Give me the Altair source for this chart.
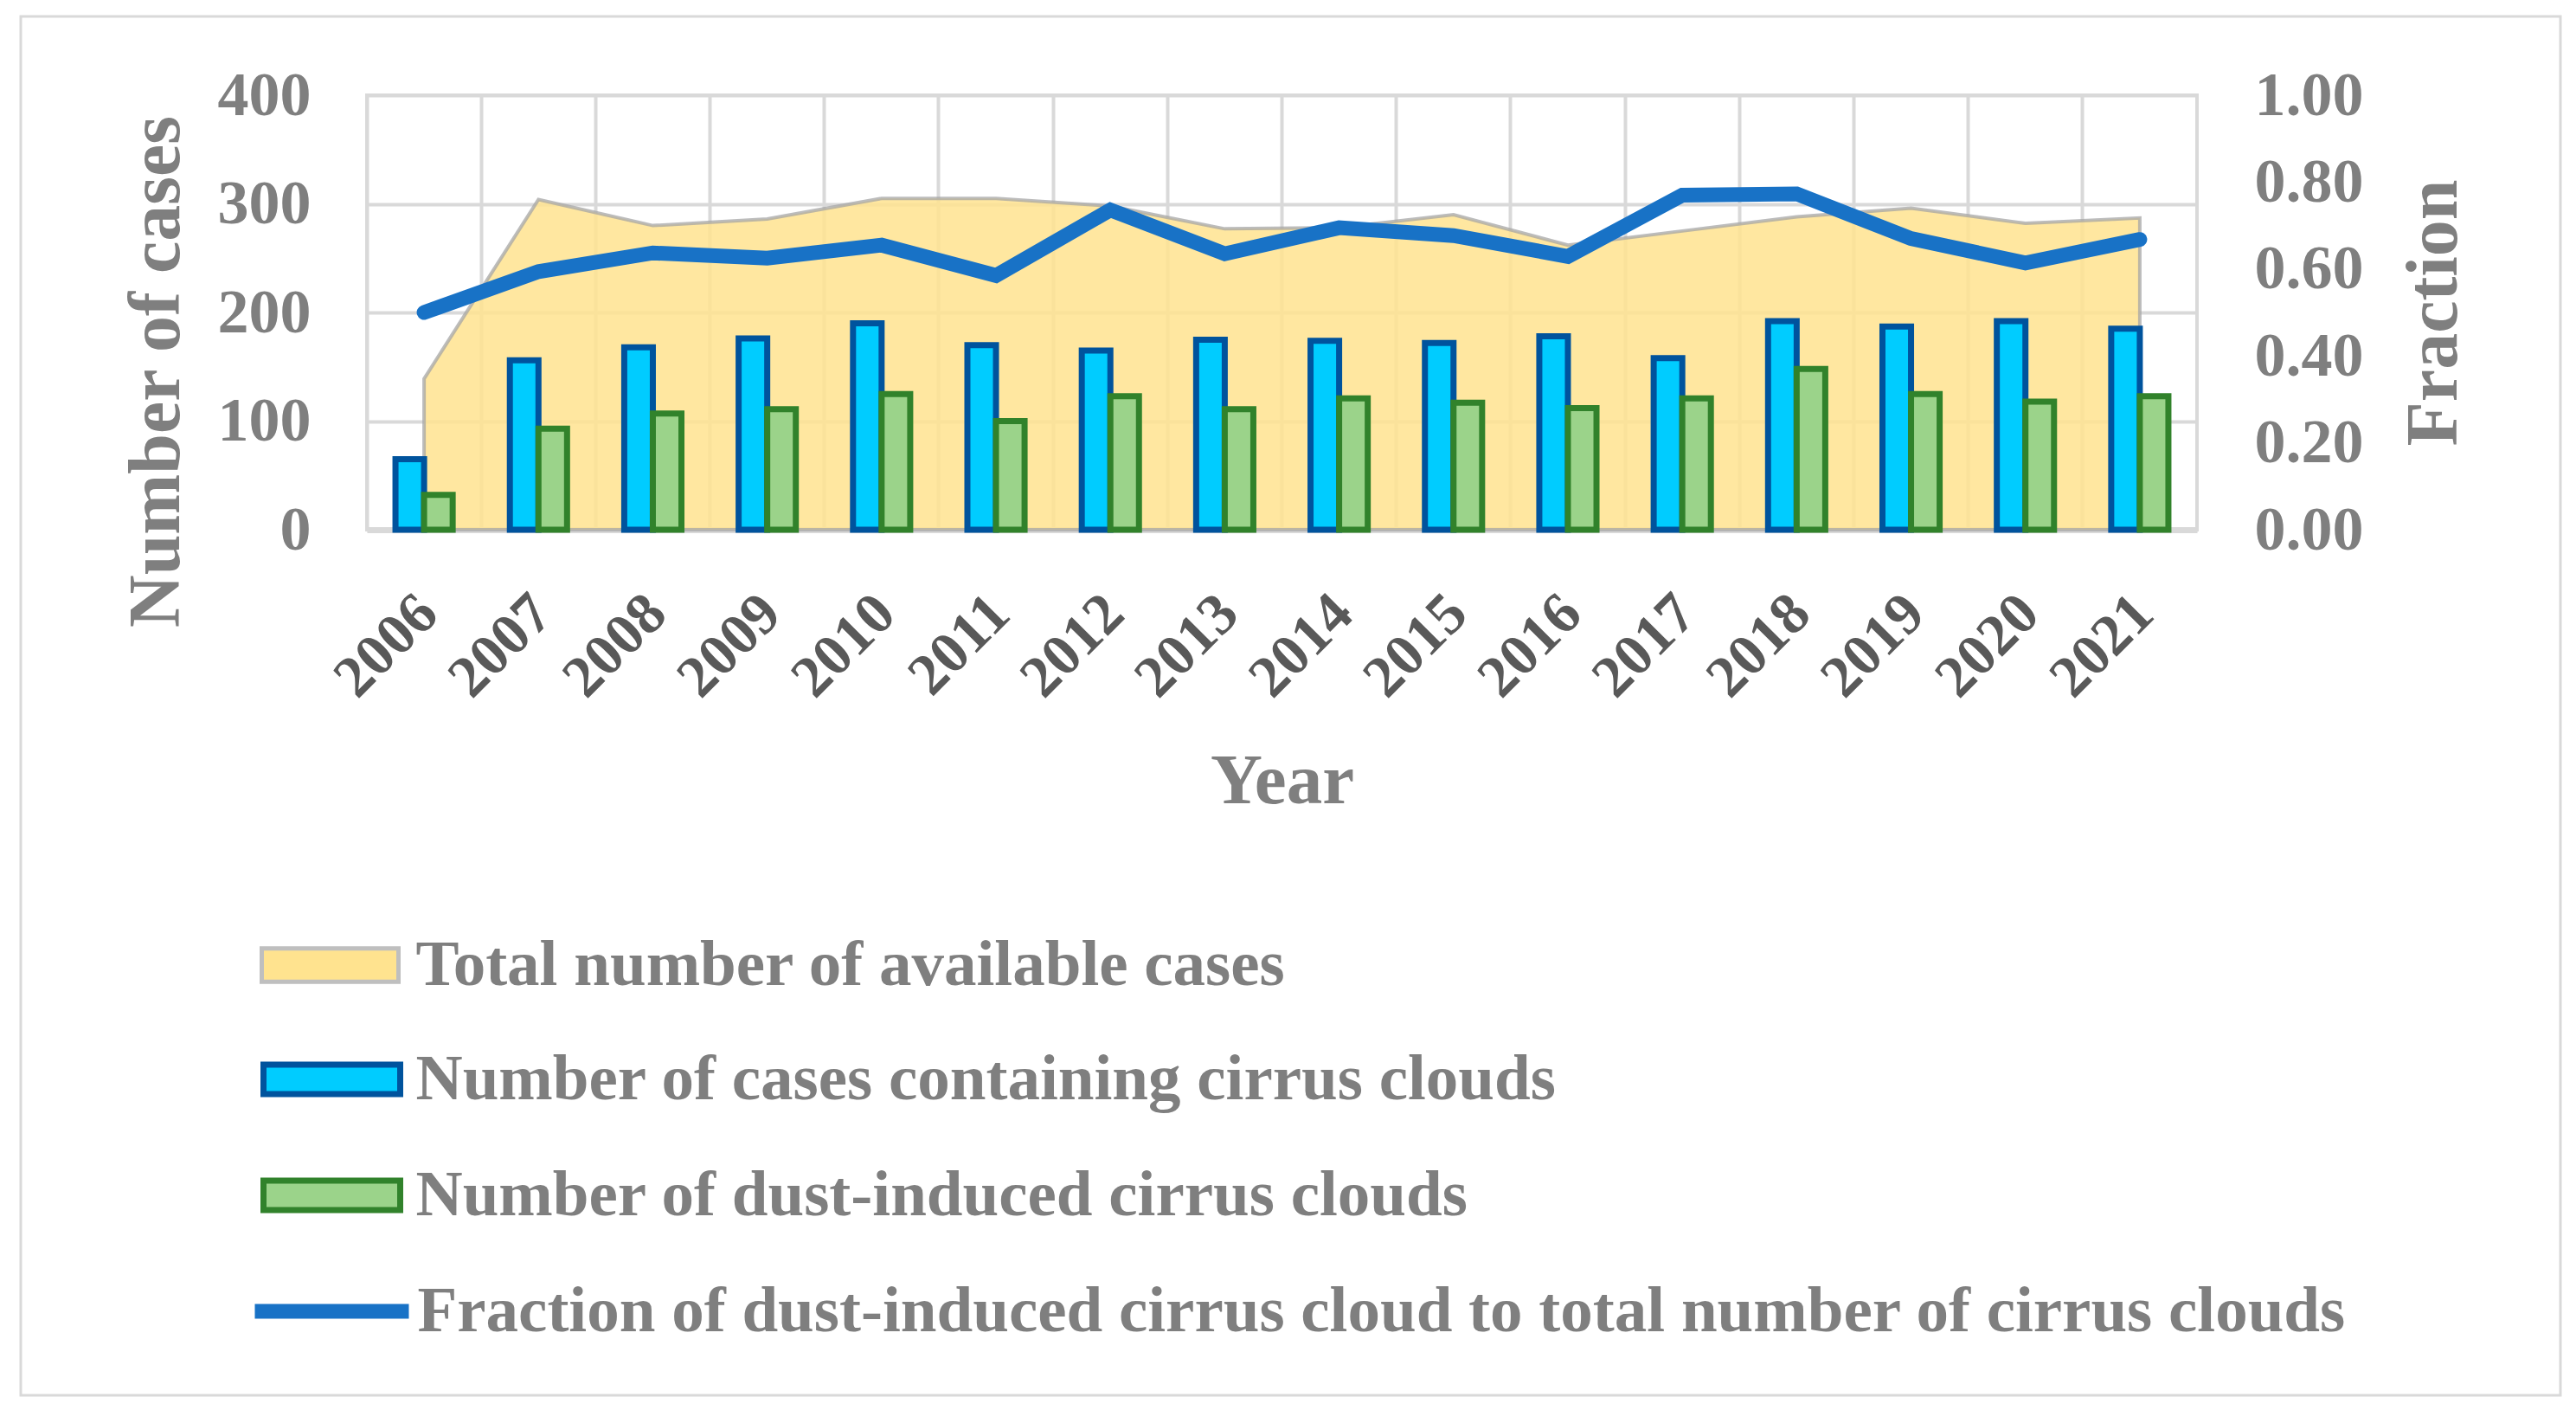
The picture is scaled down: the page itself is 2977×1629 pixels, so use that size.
import altair as alt
import pandas as pd

# ---------------- data ----------------
years = ["2006", "2007", "2008", "2009", "2010", "2011", "2012", "2013",
         "2014", "2015", "2016", "2017", "2018", "2019", "2020", "2021"]
total_cases = [139, 304, 280, 286, 305, 305, 298, 277, 278, 290, 262, 275, 288, 296, 282, 287]
cirrus_cases = [65, 156, 168, 176, 190, 170, 165, 175, 174, 172, 178, 158, 192, 187, 192, 185]
dust_cirrus = [32, 93, 107, 111, 125, 100, 123, 111, 121, 117, 112, 121, 148, 125, 118, 123]
fraction = [0.500, 0.594, 0.637, 0.625, 0.655, 0.585, 0.736, 0.635,
            0.695, 0.677, 0.629, 0.770, 0.773, 0.670, 0.614, 0.668]

S_TOTAL = "Total number of available cases"
S_CIRRUS = "Number of cases containing cirrus clouds"
S_DUST = "Number of dust-induced cirrus clouds"
S_FRAC = "Fraction of dust-induced cirrus cloud to total number of cirrus clouds"

main_df = pd.DataFrame({"year": years, "total": total_cases, "fraction": fraction,
                        "area_series": S_TOTAL, "line_series": S_FRAC})
bar_df = pd.concat([
    pd.DataFrame({"year": years, "series": S_CIRRUS, "value": cirrus_cases}),
    pd.DataFrame({"year": years, "series": S_DUST, "value": dust_cirrus}),
], ignore_index=True)

FONT = "Liberation Serif"
GRID = "#d9d9d9"
GRAY = "#7f7f7f"

# ---------------- axes ----------------
x_axis = alt.Axis(
    title="Year", labelAngle=315, labelAlign="right", labelBaseline="middle",
    labelPadding=86, labelOffset=5, labelFontSize=68, labelColor="#595959",
    labelFont=FONT, labelFontWeight="bold", labelOverlap=False,
    bandPosition=0, grid=True, gridColor=GRID, gridWidth=4,
    domain=True, domainColor=GRID, domainWidth=7, ticks=False, tickSize=0,
    titleFont=FONT, titleFontWeight="bold", titleFontSize=83, titleColor=GRAY,
    titleY=315, titleBaseline="alphabetic",
)
y_axis = alt.Axis(
    title="Number of cases", orient="left", values=[0, 100, 200, 300, 400],
    labelPadding=65, labelFontSize=72, labelColor=GRAY, labelFont=FONT,
    labelFontWeight="bold", labelOverlap=False,
    grid=True, gridColor=GRID, gridWidth=4, domain=False, ticks=False, tickSize=0,
    titleFont=FONT, titleFontWeight="bold", titleFontSize=84, titleColor=GRAY,
    titleX=-218, titleY=319, titleAngle=270, titleBaseline="alphabetic", titleAlign="center",
)
y2_axis = alt.Axis(
    title="Fraction", orient="right", values=[0, 0.2, 0.4, 0.6, 0.8, 1.0], format=".2f",
    labelPadding=66, labelFontSize=72, labelColor=GRAY, labelFont=FONT,
    labelFontWeight="bold", labelOverlap=False,
    grid=False, domain=False, ticks=False, tickSize=0,
    titleFont=FONT, titleFontWeight="bold", titleFontSize=84, titleColor=GRAY,
    titleX=299, titleY=251, titleAngle=270, titleBaseline="alphabetic", titleAlign="center",
)

x_enc = alt.X("year:N", sort=years,
              scale=alt.Scale(type="band", domain=years, paddingInner=0, paddingOuter=0),
              axis=x_axis)
y_scale = alt.Scale(domain=[0, 400], nice=False)

# ---------------- legends ----------------
area_legend = alt.Legend(
    title=None, orient="none", direction="vertical", legendX=-124, legendY=963,
    symbolType="M-2,-0.49H2V0.49H-2Z", symbolSize=6241, symbolStrokeWidth=5,
    symbolStrokeColor="#bfbfbf", symbolOffset=39.5, labelOffset=57, padding=0,
)
bar_legend = alt.Legend(
    title=None, orient="none", direction="vertical", legendX=-123, legendY=1094,
    symbolType="M-2,-0.43H2V0.43H-2Z", symbolSize=6241, symbolStrokeWidth=7,
    symbolOffset=39.5, labelOffset=54, rowPadding=53, padding=0,
)
line_legend = alt.Legend(
    title=None, orient="none", direction="vertical", legendX=-138, legendY=1352,
    symbolType="M-2,0H2", symbolSize=7921, symbolStrokeWidth=17,
    symbolOffset=44.5, labelOffset=46, padding=0,
)

# ---------------- layers ----------------
frame = alt.Chart(pd.DataFrame({"frame": [0]})).mark_rect(
    fillOpacity=0, stroke=GRID, strokeWidth=3
).encode(x=alt.value(-400), x2=alt.value(2535), y=alt.value(-91), y2=alt.value(1502))

area = alt.Chart(main_df).mark_area(
    fillOpacity=0.85, stroke="#a6a6a6", strokeOpacity=0.75, strokeWidth=4
).encode(
    x=x_enc,
    y=alt.Y("total:Q", scale=y_scale, axis=y_axis),
    color=alt.Color("area_series:N", scale=alt.Scale(domain=[S_TOTAL], range=["#ffe38f"]),
                    legend=area_legend),
)

bars = alt.Chart(bar_df).mark_bar(strokeWidth=7).encode(
    x=x_enc,
    xOffset=alt.XOffset("series:N", sort=[S_CIRRUS, S_DUST],
                        scale=alt.Scale(domain=[S_CIRRUS, S_DUST], paddingInner=0, paddingOuter=1.0)),
    y=alt.Y("value:Q", scale=y_scale, axis=y_axis),
    fill=alt.Fill("series:N", sort=[S_CIRRUS, S_DUST],
                  scale=alt.Scale(domain=[S_CIRRUS, S_DUST], range=["#00ccff", "#9bd38a"]),
                  legend=bar_legend),
    stroke=alt.Stroke("series:N", sort=[S_CIRRUS, S_DUST],
                      scale=alt.Scale(domain=[S_CIRRUS, S_DUST], range=["#00539d", "#31822b"]),
                      legend=bar_legend),
)

line = alt.Chart(main_df).mark_line(strokeWidth=17, strokeCap="round").encode(
    x=x_enc,
    y=alt.Y("fraction:Q", scale=alt.Scale(domain=[0, 1], nice=False), axis=y2_axis),
    color=alt.Color("line_series:N", scale=alt.Scale(domain=[S_FRAC], range=["#1872c6"]),
                    legend=line_legend),
)

inner = alt.layer(area, bars)

chart = alt.layer(frame, inner, line).resolve_scale(
    y="independent", color="independent"
).properties(
    width=2115, height=502,
    autosize=alt.AutoSizeParams(type="none"),
    padding={"left": 416, "top": 102, "right": 422, "bottom": 1002},
    background="white",
).configure_view(
    stroke=GRID, strokeWidth=4
).configure_legend(
    labelFont=FONT, labelFontWeight="bold", labelFontSize=75, labelColor=GRAY,
    labelLimit=3000,
)

chart.save("out.html", embed_options={"renderer": "svg", "actions": False})
